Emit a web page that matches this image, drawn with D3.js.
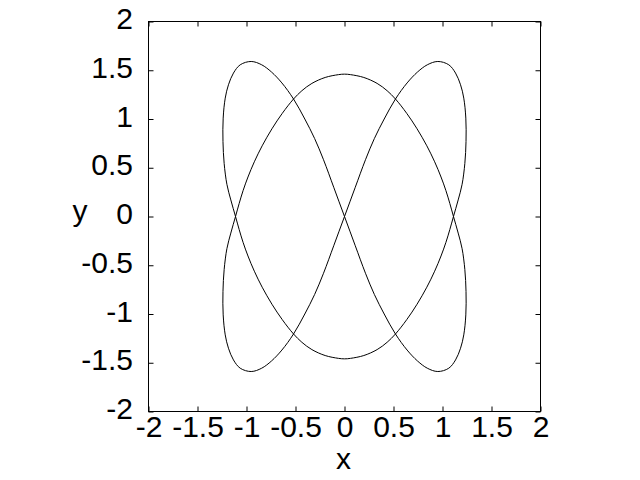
<!DOCTYPE html>
<html lang="en">
<head>
    <meta charset="UTF-8">
    <title>Closed orbit</title>
    <script src="https://cdn.jsdelivr.net/npm/d3@7"></script>
    <style>
        body { margin: 0; background: #fff; }
    </style>
</head>
<body>
<div id="mainContent"></div>
<script>
    // curve, in drawing order (each piece ends where the next starts)
    const lobeUpperLeft = [[0, 0], [-0.110, 0.300], [-0.214, 0.582], [-0.305, 0.800], [-0.405, 1.000],
        [-0.520, 1.205], [-0.639, 1.370], [-0.745, 1.482], [-0.845, 1.556], [-0.952, 1.590],
        [-1.064, 1.556], [-1.133, 1.471], [-1.184, 1.351], [-1.217, 1.214], [-1.238, 1.009],
        [-1.240, 0.769], [-1.228, 0.545], [-1.200, 0.330], [-1.160, 0.170]];
    const archLower = [[-1.112, 0], [-1.075, -0.133], [-1.035, -0.265], [-0.985, -0.405], [-0.920, -0.561],
        [-0.840, -0.725], [-0.740, -0.900], [-0.635, -1.058], [-0.520, -1.205], [-0.435, -1.290],
        [-0.333, -1.365], [-0.197, -1.426], [-0.061, -1.455], [0, -1.460], [0.061, -1.455],
        [0.197, -1.426], [0.333, -1.365], [0.435, -1.290], [0.520, -1.205], [0.635, -1.058],
        [0.740, -0.900], [0.840, -0.725], [0.920, -0.561], [0.985, -0.405], [1.035, -0.265],
        [1.075, -0.133]];
    const lobeUpperRight = [[1.112, 0], [1.160, 0.170], [1.200, 0.330], [1.228, 0.545], [1.240, 0.769],
        [1.238, 1.009], [1.217, 1.214], [1.184, 1.351], [1.133, 1.471], [1.064, 1.556],
        [0.952, 1.590], [0.845, 1.556], [0.745, 1.482], [0.639, 1.370], [0.520, 1.205],
        [0.405, 1.000], [0.305, 0.800], [0.214, 0.582], [0.110, 0.300]];
    const lobeLowerLeft = [[0, 0], [-0.110, -0.300], [-0.214, -0.582], [-0.305, -0.800], [-0.405, -1.000],
        [-0.520, -1.205], [-0.639, -1.370], [-0.745, -1.482], [-0.845, -1.556], [-0.952, -1.590],
        [-1.064, -1.556], [-1.133, -1.471], [-1.184, -1.351], [-1.217, -1.214], [-1.238, -1.009],
        [-1.240, -0.769], [-1.228, -0.545], [-1.200, -0.330], [-1.160, -0.170]];
    const archUpper = [[-1.112, 0], [-1.075, 0.133], [-1.035, 0.265], [-0.985, 0.405], [-0.920, 0.561],
        [-0.840, 0.725], [-0.740, 0.900], [-0.635, 1.058], [-0.520, 1.205], [-0.435, 1.290],
        [-0.333, 1.365], [-0.197, 1.426], [-0.061, 1.455], [0, 1.460], [0.061, 1.455],
        [0.197, 1.426], [0.333, 1.365], [0.435, 1.290], [0.520, 1.205], [0.635, 1.058],
        [0.740, 0.900], [0.840, 0.725], [0.920, 0.561], [0.985, 0.405], [1.035, 0.265],
        [1.075, 0.133]];
    const lobeLowerRight = [[1.112, 0], [1.160, -0.170], [1.200, -0.330], [1.228, -0.545], [1.240, -0.769],
        [1.238, -1.009], [1.217, -1.214], [1.184, -1.351], [1.133, -1.471], [1.064, -1.556],
        [0.952, -1.590], [0.845, -1.556], [0.745, -1.482], [0.639, -1.370], [0.520, -1.205],
        [0.405, -1.000], [0.305, -0.800], [0.214, -0.582], [0.110, -0.300]];

    const tickValues = [-2, -1.5, -1, -0.5, 0, 0.5, 1, 1.5, 2];
    const tickLabels = ["-2", "-1.5", "-1", "-0.5", "0", "0.5", "1", "1.5", "2"];

    const margin = {top: 21.5, right: 99.5, bottom: 68.5, left: 148.5},
        width = 640 - margin.left - margin.right,
        height = 480 - margin.top - margin.bottom;

    const font = "'Liberation Sans', Arial, sans-serif";

    let xScale = d3.scaleLinear().domain([-2, 2]).range([0, width]);
    let yScale = d3.scaleLinear().domain([-2, 2]).range([height, 0]);

    let svg = d3.select("#mainContent")
        .append("svg")
        .attr("width", 640)
        .attr("height", 480);

    let g = svg.append("g")
        .attr("transform", "translate(" + margin.left + "," + margin.top + ")");

    // the orbit
    const path = lobeUpperLeft.concat(archLower, lobeUpperRight, lobeLowerLeft, archUpper, lobeLowerRight);
    const lineGen = d3.line()
        .x(d => xScale(d[0]))
        .y(d => yScale(d[1]))
        .curve(d3.curveCatmullRomClosed.alpha(0.5));

    g.append("path")
        .datum(path)
        .attr("d", lineGen)
        .attr("fill", "none")
        .attr("stroke", "#000")
        .attr("stroke-width", 1);

    // axes, ticks pointing inward on all four sides
    function styleAxis(axisNodes) {
        axisNodes.select(".domain").remove();
        axisNodes.selectAll(".tick line").attr("stroke", "#000");
        axisNodes.selectAll(".tick text")
            .attr("fill", "#000")
            .attr("font-family", font)
            .attr("font-size", 30);
    }

    const xAxis = d3.axisBottom(xScale).tickValues(tickValues)
        .tickFormat((d, i) => tickLabels[i]).tickSizeInner(-5).tickSizeOuter(0).tickPadding(4);
    styleAxis(g.append("g").attr("transform", "translate(0," + height + ")").call(xAxis));

    const xAxisTop = d3.axisTop(xScale).tickValues(tickValues).tickFormat("").tickSizeInner(-5).tickSizeOuter(0);
    styleAxis(g.append("g").call(xAxisTop));

    const yAxis = d3.axisLeft(yScale).tickValues(tickValues)
        .tickFormat((d, i) => tickLabels[i]).tickSizeInner(-5).tickSizeOuter(0).tickPadding(15.5);
    let yAxisNodes = g.append("g").call(yAxis);
    styleAxis(yAxisNodes);
    yAxisNodes.selectAll(".tick text").attr("dy", "0.24em");

    const yAxisRight = d3.axisRight(yScale).tickValues(tickValues).tickFormat("").tickSizeInner(-5).tickSizeOuter(0);
    styleAxis(g.append("g").attr("transform", "translate(" + width + ",0)").call(yAxisRight));

    // frame
    g.append("rect")
        .attr("width", width)
        .attr("height", height)
        .attr("fill", "none")
        .attr("stroke", "#000")
        .attr("stroke-width", 1);

    svg.append("text").text("x")
        .attr("x", margin.left + width / 2 - 1)
        .attr("y", 469)
        .attr("text-anchor", "middle")
        .attr("font-size", 30)
        .attr("font-family", font);

    svg.append("text").text("y")
        .attr("x", 80)
        .attr("y", 221)
        .attr("text-anchor", "middle")
        .attr("font-size", 30)
        .attr("font-family", font);
</script>
</body>
</html>
